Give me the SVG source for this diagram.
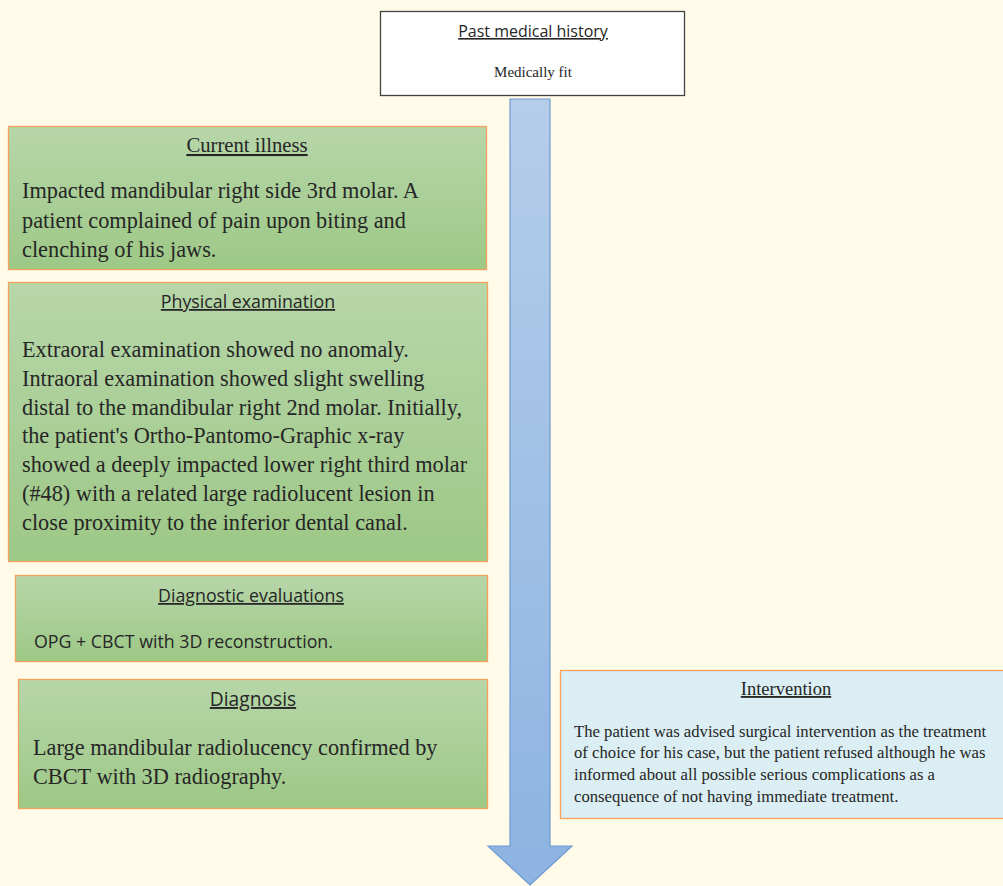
<svg xmlns="http://www.w3.org/2000/svg" width="1003" height="886" viewBox="0 0 1003 886">
<style>
.serif{font-family:"Liberation Serif","Times New Roman",serif;fill:#262626}
.sans{font-family:"Open Sans","Liberation Sans",Arial,sans-serif;fill:#262626}
.u{text-decoration:underline}
.green{fill:url(#g);stroke:#F5A35C;stroke-width:1.3}
.body{font-size:22.3px}
</style>
<defs>
<linearGradient id="g" x1="0" y1="0" x2="0" y2="1">
<stop offset="0" stop-color="#B7D6A9"/>
<stop offset="1" stop-color="#9DC886"/>
</linearGradient>
<linearGradient id="ab" x1="0" y1="0" x2="0" y2="1">
<stop offset="0" stop-color="#B5CDE9"/>
<stop offset="1" stop-color="#8DB3E2"/>
</linearGradient>
</defs>
<rect width="1003" height="886" fill="#FFFBE8"/>
<g id="connectors">
<path d="M510,99 H550 V846 H572 L530,885 L488,846 H510 Z" fill="url(#ab)" stroke="#6F9BD3" stroke-width="1.2"/>
</g>
<g id="past-medical-history">
<rect x="380.5" y="11.5" width="304" height="84" fill="#FFFFFF" stroke="#444" stroke-width="1.3"/>
<text x="533" y="37" text-anchor="middle" class="sans u" font-size="16">Past medical history</text>
<text x="533" y="77" text-anchor="middle" class="serif" font-size="15">Medically fit</text>
</g>
<g id="current-illness">
<rect x="8.5" y="126.5" width="478" height="143" class="green"/>
<text x="247" y="152" text-anchor="middle" class="serif u" font-size="20.7">Current illness</text>
<text class="serif body"><tspan x="22" y="198">Impacted mandibular right side 3rd molar. A</tspan><tspan x="22" y="228">patient complained of pain upon biting and</tspan><tspan x="22" y="257">clenching of his jaws.</tspan></text>
</g>
<g id="physical-examination">
<rect x="8.5" y="282.5" width="479" height="279" class="green"/>
<text x="248" y="308" text-anchor="middle" class="sans u" font-size="17.8">Physical examination</text>
<text class="serif body"><tspan x="22" y="357">Extraoral examination showed no anomaly.</tspan><tspan x="22" y="386">Intraoral examination showed slight swelling</tspan><tspan x="22" y="415">distal to the mandibular right 2nd molar. Initially,</tspan><tspan x="22" y="443">the patient's Ortho-Pantomo-Graphic x-ray</tspan><tspan x="22" y="472">showed a deeply impacted lower right third molar</tspan><tspan x="22" y="501">(#48) with a related large radiolucent lesion in</tspan><tspan x="22" y="530">close proximity to the inferior dental canal.</tspan></text>
</g>
<g id="diagnostic-evaluations">
<rect x="15.5" y="575.5" width="472" height="86" class="green"/>
<text x="251" y="602" text-anchor="middle" class="sans u" font-size="17.8">Diagnostic evaluations</text>
<text x="34" y="648" class="sans" font-size="17.8">OPG + CBCT with 3D reconstruction.</text>
</g>
<g id="diagnosis">
<rect x="18.5" y="679.5" width="469" height="129" class="green"/>
<text x="253" y="706" text-anchor="middle" class="sans u" font-size="19.2">Diagnosis</text>
<text class="serif body"><tspan x="33" y="755">Large mandibular radiolucency confirmed by</tspan><tspan x="33" y="784">CBCT with 3D radiography.</tspan></text>
</g>
<g id="intervention">
<rect x="560.5" y="670.5" width="446" height="148" fill="#DAEEF3" stroke="#F5A35C" stroke-width="1.3"/>
<text x="786" y="695" text-anchor="middle" class="serif u" font-size="18.5">Intervention</text>
<text class="serif" font-size="16.7"><tspan x="574" y="737">The patient was advised surgical intervention as the treatment</tspan><tspan x="574" y="758">of choice for his case, but the patient refused although he was</tspan><tspan x="574" y="780">informed about all possible serious complications as a</tspan><tspan x="574" y="802">consequence of not having immediate treatment.</tspan></text>
</g>
</svg>
